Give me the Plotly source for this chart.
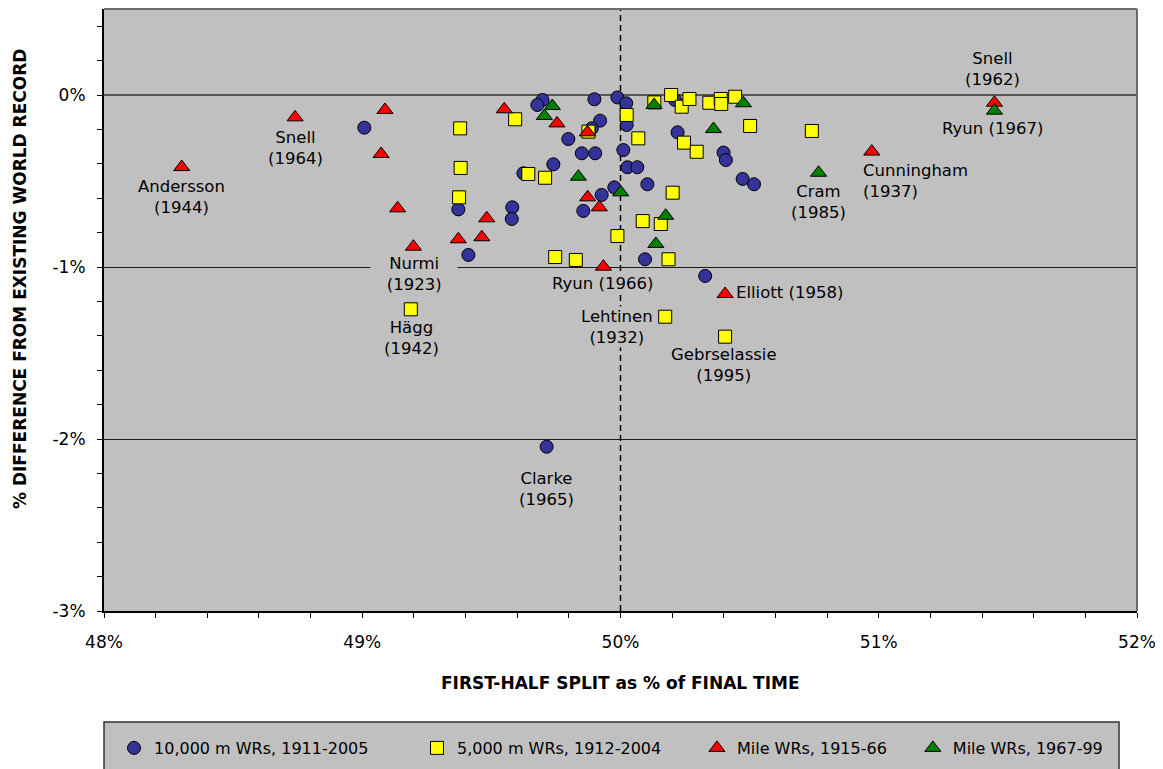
import plotly.graph_objects as go

# ---- data (first-half split %, % difference from existing WR) ----
tenk_x = [49.008, 49.698, 49.678, 49.899, 49.921, 49.889, 49.798, 49.850, 49.902, 49.740,
          49.624, 49.988, 50.022, 50.024, 50.011, 50.027, 50.065, 49.976, 49.927, 49.856,
          49.581, 49.579, 49.372, 49.411, 50.104, 50.221, 50.399, 50.408, 50.473, 50.517,
          50.095, 50.328, 50.211, 49.714]
tenk_y = [-0.190, -0.029, -0.058, -0.025, -0.149, -0.194, -0.256, -0.339, -0.339, -0.403,
          -0.455, -0.014, -0.048, -0.174, -0.320, -0.420, -0.420, -0.537, -0.581, -0.674,
          -0.653, -0.721, -0.665, -0.930, -0.519, -0.217, -0.335, -0.378, -0.488, -0.519,
          -0.955, -1.052, -0.029, -2.045]

fivek_x = [49.379, 49.381, 49.375, 49.592, 49.643, 49.708, 49.747, 49.827, 49.876, 50.024,
           49.988, 50.069, 50.196, 50.237, 50.267, 50.344, 50.388, 50.390, 50.444, 50.502,
           50.741, 50.246, 50.295, 50.202, 50.086, 50.156, 50.186, 50.131, 50.173, 50.405,
           49.188]
fivek_y = [-0.194, -0.424, -0.595, -0.141, -0.459, -0.481, -0.942, -0.959, -0.213, -0.116,
           -0.820, -0.252, 0.000, -0.068, -0.023, -0.045, -0.023, -0.052, -0.010, -0.180,
           -0.209, -0.277, -0.330, -0.568, -0.733, -0.750, -0.955, -0.043, -1.289, -1.405,
           -1.246]

mile1_x = [48.301, 48.740, 49.088, 49.073, 49.137, 49.198, 49.372, 49.463, 49.482, 49.550,
           49.754, 49.872, 49.873, 49.918, 49.934, 50.405, 50.973, 51.448]
mile1_y = [-0.419, -0.130, -0.087, -0.343, -0.659, -0.882, -0.839, -0.827, -0.717, -0.083,
           -0.165, -0.217, -0.595, -0.653, -0.998, -1.157, -0.329, -0.045]

mile2_x = [49.736, 49.705, 49.837, 50.001, 50.130, 50.360, 50.476, 50.175, 50.137, 50.767, 51.448]
mile2_y = [-0.064, -0.122, -0.475, -0.566, -0.058, -0.198, -0.048, -0.702, -0.866, -0.452, -0.091]

series_names = ["10,000 m WRs, 1911-2005", "5,000 m WRs, 1912-2004",
                "Mile WRs, 1915-66", "Mile WRs, 1967-99"]

x_ticks = [48, 49, 50, 51, 52]
x_ticktext = ["48%", "49%", "50%", "51%", "52%"]
y_ticks = [-3, -2, -1, 0]
y_ticktext = ["-3%", "-2%", "-1%", "0%"]

# label text, x, y, anchor
labels = [
    ("Andersson<br>(1944)", 48.302, -0.593, "center"),
    ("Snell<br>(1964)", 48.740, -0.308, "center"),
    ("&nbsp;&nbsp;&nbsp;Nurmi&nbsp;&nbsp;&nbsp;<br>&nbsp;&nbsp;&nbsp;(1923)&nbsp;&nbsp;&nbsp;", 49.200, -1.041, "center"),
    ("Hägg<br>(1942)", 49.189, -1.413, "center"),
    ("Ryun (1966)", 49.932, -1.093, "center"),
    ("Lehtinen<br>(1932)", 49.987, -1.349, "center"),
    ("Gebrselassie<br>(1995)", 50.401, -1.570, "center"),
    ("Elliott (1958)", 50.443, -1.151, "left"),
    ("Clarke<br>(1965)", 49.715, -2.291, "center"),
    ("Cram<br>(1985)", 50.765, -0.622, "center"),
    ("Cunningham<br>(1937)", 50.935, -0.500, "left"),
    ("Snell<br>(1962)", 51.439, 0.151, "center"),
    ("Ryun (1967)", 51.439, -0.192, "center"),
]

FONT = "DejaVu Sans"
BG = "#C0C0C0"

fig = go.Figure()
mline = dict(color="black", width=1)
fig.add_trace(go.Scatter(x=tenk_x, y=tenk_y, mode="markers", name=series_names[0],
                         marker=dict(symbol="circle", size=13, color="#333399", line=mline),
                         legend="legend"))
fig.add_trace(go.Scatter(x=fivek_x, y=fivek_y, mode="markers", name=series_names[1],
                         marker=dict(symbol="square", size=13, color="#FFFF00", line=mline),
                         legend="legend2"))
fig.add_trace(go.Scatter(x=mile1_x, y=mile1_y, mode="markers", name=series_names[2],
                         marker=dict(symbol="triangle-up", size=14, color="#FF0000", line=mline),
                         legend="legend3"))
fig.add_trace(go.Scatter(x=mile2_x, y=mile2_y, mode="markers", name=series_names[3],
                         marker=dict(symbol="triangle-up", size=14, color="#008000", line=mline),
                         legend="legend4"))

for text, lx, ly, anc in labels:
    fig.add_annotation(x=lx, y=ly, text=text, showarrow=False, xanchor=anc, yanchor="middle",
                       align=anc,
                       font=dict(family=FONT, size=16.5, color="black"),
                       bgcolor=BG, borderpad=0)

# axis titles
fig.add_annotation(xref="paper", yref="paper", x=0.5, y=-0.1196, text="<b>FIRST-HALF SPLIT as % of FINAL TIME</b>",
                   showarrow=False, xanchor="center", yanchor="middle",
                   font=dict(family=FONT, size=17, color="black"))
fig.add_annotation(xref="paper", yref="paper", x=-0.0813, y=0.5515,
                   text="<b>% DIFFERENCE FROM EXISTING WORLD RECORD</b>", textangle=-90,
                   showarrow=False, xanchor="center", yanchor="middle",
                   font=dict(family=FONT, size=17, color="black"))

# vertical dashed reference line at 50%
fig.add_shape(type="line", xref="x", yref="paper", x0=50, x1=50, y0=0, y1=1,
              line=dict(color="black", width=1.5, dash="6px,4px"), layer="below")
# top/right plot border
fig.add_shape(type="line", xref="paper", yref="paper", x0=0, x1=1, y0=1, y1=1,
              line=dict(color="#6b6b6b", width=2))
fig.add_shape(type="line", xref="paper", yref="paper", x0=1, x1=1, y0=0, y1=1,
              line=dict(color="#6b6b6b", width=2))
# legend box
fig.add_shape(type="rect", xref="paper", yref="paper", x0=0, x1=0.9826, y0=-0.30, y1=-0.1844,
              line=dict(color="#333333", width=1.5), fillcolor=BG, layer="below")

leg_common = dict(orientation="h", yanchor="middle", y=-0.2276, xanchor="left",
                  bgcolor="rgba(0,0,0,0)", borderwidth=0,
                  font=dict(family=FONT, size=16, color="black"))
# page body has an 8px default margin, so figure is 1155x761 and margins are offset
fig.update_layout(
    width=1155, height=761,
    margin=dict(l=96, r=26, t=1, b=158, autoexpand=False),
    paper_bgcolor="white", plot_bgcolor=BG,
    font=dict(family=FONT, size=17, color="black"),
    showlegend=True,
    legend=dict(x=0.0097, **leg_common),
    legend2=dict(x=0.303, **leg_common),
    legend3=dict(x=0.574, **leg_common),
    legend4=dict(x=0.783, **leg_common),
    xaxis=dict(range=[48, 52], tickvals=x_ticks, ticktext=x_ticktext, showgrid=False, zeroline=False,
               showline=True, linecolor="black", linewidth=2, ticks="outside", ticklen=5,
               tickcolor="black", ticklabelstandoff=10,
               tickfont=dict(family=FONT, size=17, color="black"),
               minor=dict(dtick=0.2, ticks="outside", ticklen=5, tickcolor="black", showgrid=False)),
    yaxis=dict(range=[-3, 0.5], tickvals=y_ticks, ticktext=y_ticktext, showgrid=True,
               gridcolor="#1a1a1a", gridwidth=1, zeroline=True, zerolinecolor="#555555", zerolinewidth=2,
               showline=True, linecolor="black", linewidth=2, ticks="outside", ticklen=5,
               tickcolor="black", ticklabelstandoff=8,
               tickfont=dict(family=FONT, size=17, color="black"),
               minor=dict(dtick=0.2, ticks="outside", ticklen=5, tickcolor="black", showgrid=False)),
)

fig.write_html("out.html")
